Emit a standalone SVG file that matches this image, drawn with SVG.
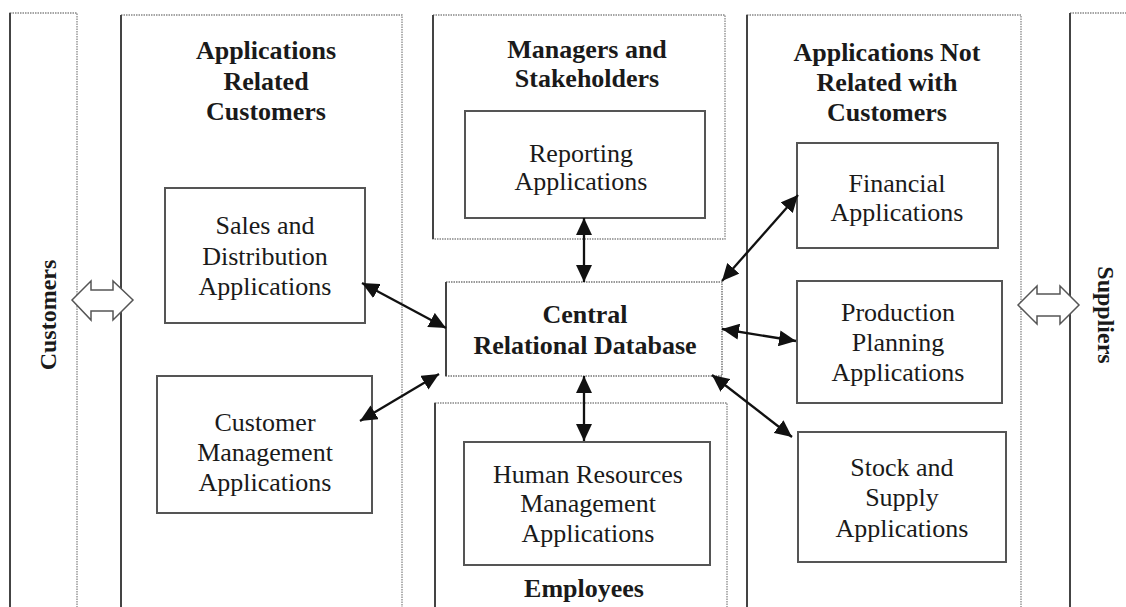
<svg xmlns="http://www.w3.org/2000/svg" width="1126" height="607" viewBox="0 0 1126 607">
<style>
.panel{fill:#fff;stroke:#888;stroke-width:1.3;stroke-dasharray:1.5 1}
.edge{stroke:#444;stroke-width:2}
.box{fill:#fff;stroke:#555;stroke-width:2}
.db{fill:#fff;stroke:#777;stroke-width:1.5;stroke-dasharray:1.5 1}
.t{font-family:"Liberation Serif","Times New Roman",serif;font-size:26px;fill:#1a1a1a;text-anchor:middle}
.b{font-weight:bold}
.side{font-family:"Liberation Serif","Times New Roman",serif;font-size:24px;font-weight:bold;fill:#1a1a1a;text-anchor:middle}
.big{fill:#fff;stroke:#555;stroke-width:1.5}
.con{stroke:#111;stroke-width:2.3;fill:none;marker-start:url(#ah);marker-end:url(#ah)}
</style>
<defs>
<marker id="ah" markerUnits="userSpaceOnUse" markerWidth="18" markerHeight="16" refX="17" refY="8" orient="auto-start-reverse">
<path d="M0,0 L17,8 L0,16 z" fill="#111"/>
</marker>
</defs>
<rect width="1126" height="607" fill="#fff"/>

<g id="customers">
<rect class="panel" x="10" y="13" width="67" height="610"/>
<line class="edge" x1="10" y1="13" x2="10" y2="607"/>
<text class="side" transform="translate(56,315) rotate(-90)">Customers</text>
</g>

<g id="suppliers">
<rect class="panel" x="1070" y="13" width="70" height="610"/>
<line class="edge" x1="1070" y1="13" x2="1070" y2="607"/>
<text class="side" transform="translate(1098,315) rotate(90)">Suppliers</text>
</g>

<g id="apps-related">
<rect class="panel" x="121" y="15" width="281" height="610"/>
<line class="edge" x1="121" y1="15" x2="121" y2="607"/>
<text class="t b" x="266" y="59">Applications</text>
<text class="t b" x="266" y="90">Related</text>
<text class="t b" x="266" y="120">Customers</text>
</g>

<g id="managers">
<rect class="panel" x="433" y="15" width="292" height="224"/>
<line class="edge" x1="433" y1="15" x2="433" y2="239"/>
<text class="t b" x="587" y="58">Managers and</text>
<text class="t b" x="587" y="87">Stakeholders</text>
</g>

<g id="employees">
<rect class="panel" x="435" y="403" width="292" height="220"/>
<line class="edge" x1="435" y1="403" x2="435" y2="607"/>
<text class="t b" x="584" y="597">Employees</text>
</g>

<g id="apps-not-related">
<rect class="panel" x="747" y="15" width="274" height="610"/>
<line class="edge" x1="747" y1="15" x2="747" y2="607"/>
<text class="t b" x="887" y="61">Applications Not</text>
<text class="t b" x="887" y="91">Related with</text>
<text class="t b" x="887" y="121">Customers</text>
</g>

<g id="sales">
<rect class="box" x="165" y="188" width="200" height="135"/>
<text class="t" x="265" y="234">Sales and</text>
<text class="t" x="265" y="265">Distribution</text>
<text class="t" x="265" y="295">Applications</text>
</g>

<g id="customer-mgmt">
<rect class="box" x="157" y="376" width="215" height="137"/>
<text class="t" x="265" y="431">Customer</text>
<text class="t" x="265" y="461">Management</text>
<text class="t" x="265" y="491">Applications</text>
</g>

<g id="reporting">
<rect class="box" x="465" y="111" width="240" height="107"/>
<text class="t" x="581" y="162">Reporting</text>
<text class="t" x="581" y="190">Applications</text>
</g>

<g id="central-db">
<rect class="db" x="446" y="282" width="276" height="94"/>
<line class="edge" x1="446" y1="282" x2="446" y2="376"/>
<text class="t b" x="585" y="323">Central</text>
<text class="t b" x="585" y="354">Relational Database</text>
</g>

<g id="hr">
<rect class="box" x="464" y="442" width="246" height="123"/>
<text class="t" x="588" y="483">Human Resources</text>
<text class="t" x="588" y="512">Management</text>
<text class="t" x="588" y="542">Applications</text>
</g>

<g id="financial">
<rect class="box" x="797" y="143" width="201" height="105"/>
<text class="t" x="897" y="192">Financial</text>
<text class="t" x="897" y="221">Applications</text>
</g>

<g id="production">
<rect class="box" x="797" y="281" width="205" height="122"/>
<text class="t" x="898" y="321">Production</text>
<text class="t" x="898" y="351">Planning</text>
<text class="t" x="898" y="381">Applications</text>
</g>

<g id="stock">
<rect class="box" x="798" y="432" width="208" height="130"/>
<text class="t" x="902" y="476">Stock and</text>
<text class="t" x="902" y="506">Supply</text>
<text class="t" x="902" y="537">Applications</text>
</g>

<g id="connectors">
<polygon class="big" points="72,300 91,281 91,290 113,290 113,281 133,300 113,320 113,311 91,311 91,320"/>
<polygon class="big" points="1018,305 1037,286 1037,294 1060,294 1060,286 1079,305 1060,324 1060,316 1037,316 1037,324"/>
<line class="con" x1="362" y1="283" x2="446" y2="328"/>
<line class="con" x1="360" y1="421" x2="439" y2="374"/>
<line class="con" x1="584" y1="218" x2="584" y2="282"/>
<line class="con" x1="584" y1="376" x2="584" y2="441"/>
<line class="con" x1="722" y1="281" x2="798" y2="195"/>
<line class="con" x1="722" y1="329" x2="796" y2="341"/>
<line class="con" x1="712" y1="375" x2="792" y2="437"/>
</g>
</svg>
